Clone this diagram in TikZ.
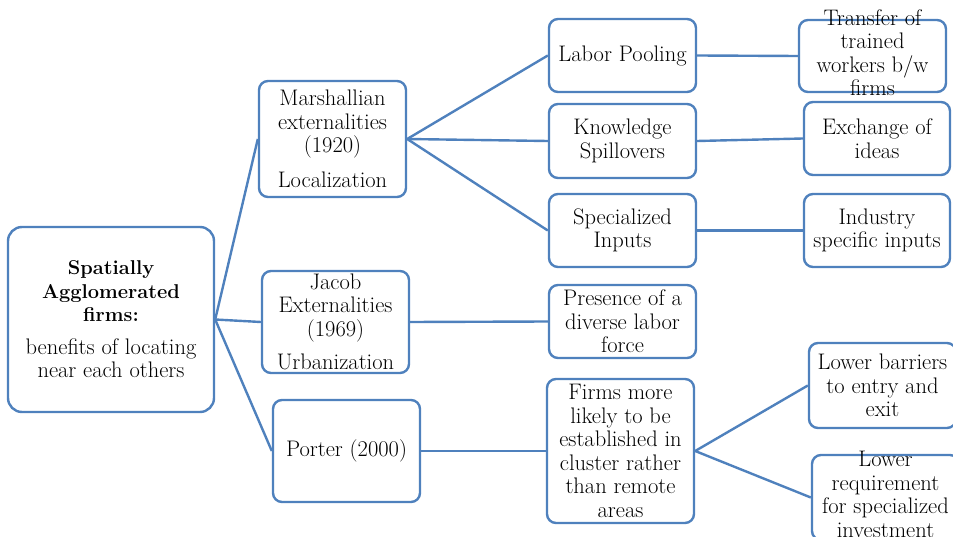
\documentclass[tikz,border=0pt]{standalone}
\usetikzlibrary{positioning}
\definecolor{smartblue}{RGB}{79,129,189}
% text that runs over the border of its box
\newcommand{\spill}[1]{\smash{\raisebox{-5pt}{\begin{tabular}[c]{@{}c@{}}#1\end{tabular}}}}
\newcommand{\headfont}{\fontsize{20}{23.5}\selectfont\bfseries}

\begin{document}
\begin{tikzpicture}[x=1pt,y=-1pt,font=\fontsize{22.5}{23.5}\selectfont,
  box/.style={draw=smartblue,line width=2.4pt,rounded corners=9pt,fill=white,
    align=center,inner sep=0pt,minimum width=147pt,minimum height=73pt},
  link/.style={draw=smartblue,line width=2.4pt}]

  \useasboundingbox (0,0) rectangle (953,537);

  \node[box,minimum width=206pt,minimum height=185pt,rounded corners=14pt] (root) at (111,319.5)
    {{\headfont Spatially}\\{\headfont Agglomerated}\\{\headfont firms:}\\[9pt]benefits of locating\\near each others};

  \node[box,minimum height=116pt] (mar) at (332.5,139) {Marshallian\\externalities\\(1920)\\[11pt]Localization};
  \node[box,minimum height=102pt] (jac) at (335.5,322) {Jacob\\Externalities\\(1969)\\[10pt]Urbanization};
  \node[box,minimum height=102pt] (por) at (346.5,451) {Porter (2000)};

  \node[box] (lp) at (622.5,55.5) {Labor Pooling};
  \node[box,minimum height=74pt] (ks) at (622.5,141) {Knowledge\\Spillovers};
  \node[box] (si) at (622.5,230.5) {Specialized\\Inputs};
  \node[box] (pr) at (622.5,321.5) {Presence of a\\diverse labor\\force};
  \node[box,minimum height=144pt] (fm) at (620.5,451) {Firms more\\likely to be\\established in\\cluster rather\\than remote\\areas};

  \node[box,minimum height=72pt] (tr) at (872.5,56) {\spill{Transfer of\\trained\\workers b/w\\firms}};
  \node[box,minimum width=146pt] (ex) at (877,138.5) {Exchange of\\ideas};
  \node[box,minimum width=146pt] (in) at (877,230.5) {Industry\\specific inputs};
  \node[box,minimum height=85pt] (lb) at (882.5,385.5) {Lower barriers\\to entry and\\exit};
  \node[box,minimum height=85pt] (lr) at (885.5,497.5) {\spill{Lower\\requirement\\for specialized\\investment}};

  \path[link]
  (root.east) edge (mar.west)
  (root.east) edge (jac.west)
  (root.east) edge (por.west)

  (mar.east) edge (lp.west)
  (mar.east) edge (ks.west)
  (mar.east) edge (si.west)
  (jac.east) edge (pr.west)
  (por.east) edge (fm.west)

  (lp.east) edge (tr.west)
  (ks.east) edge (ex.west)
  (si.east) edge (in.west)
  (fm.east) edge (lb.west)
  (fm.east) edge (lr.west)
  ;
\end{tikzpicture}
\end{document}
